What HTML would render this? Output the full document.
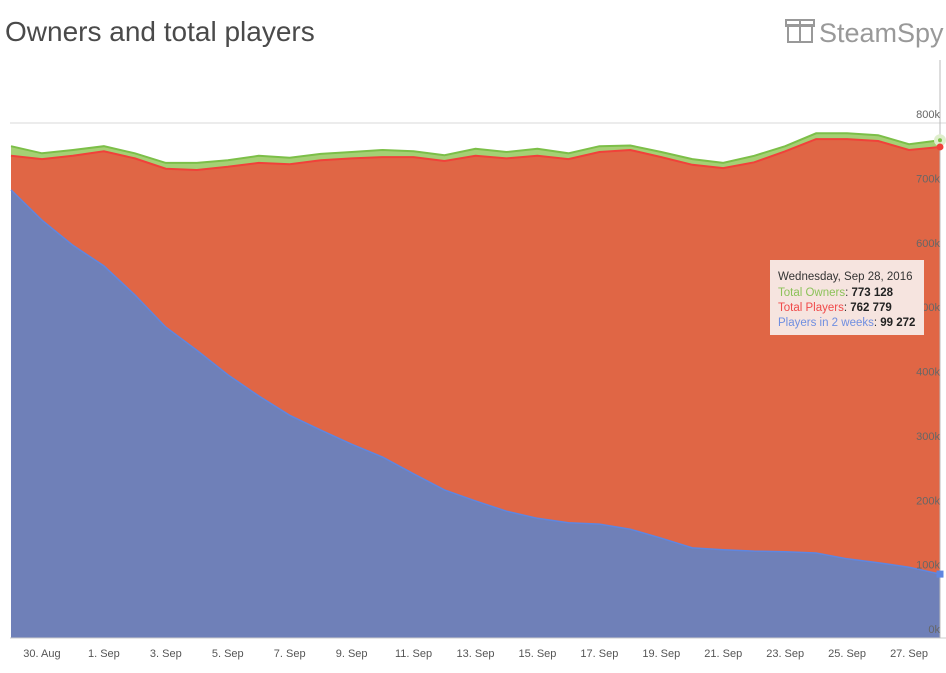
<!DOCTYPE html>
<html><head><meta charset="utf-8"><style>
body{margin:0;background:#fff;font-family:"Liberation Sans",sans-serif;}
svg text{font-family:"Liberation Sans",sans-serif;}
</style></head><body>
<svg id="c" width="946" height="668">
<text x="5" y="41" font-size="28" fill="#4a4a4a">Owners and total players</text>
<g>
<rect x="788" y="25" width="24" height="17" fill="none" stroke="#999" stroke-width="2"/>
<rect x="786" y="20" width="28" height="6" fill="none" stroke="#999" stroke-width="2"/>
<line x1="800" y1="20" x2="800" y2="42" stroke="#999" stroke-width="2"/>
<text x="819" y="42" font-size="27" fill="#999">SteamSpy</text>
</g>
<g id="grid"></g><g id="areas"></g><g id="axes"></g>
<g>
<rect x="770" y="260" width="154" height="75" fill="#f6e4df"/>
<text x="778" y="280" font-size="11.5" fill="#333">Wednesday, Sep 28, 2016</text>
<text x="778" y="296" font-size="11.5" fill="#8cc25a">Total Owners<tspan fill="#333">: </tspan><tspan fill="#222" font-weight="bold">773 128</tspan></text>
<text x="778" y="311" font-size="11.5" fill="#f04a4a">Total Players<tspan fill="#333">: </tspan><tspan fill="#222" font-weight="bold">762 779</tspan></text>
<text x="778" y="326" font-size="11.5" fill="#6f8ee0">Players in 2 weeks<tspan fill="#333">: </tspan><tspan fill="#222" font-weight="bold">99 272</tspan></text>
</g>
</svg>
<script>
const owners=[764,753,758,764,753,738,738,742,749,746,752,755,758,756,750,760,755,760,753,764,765,755,744,738,749,764,784,784,781,767,773.128];
const players=[749,744,749,756,745,729,727,732,738,736,742,745,747,747,741,749,745,749,744,755,758,747,735,730,739,756,775,775,772,758,762.779];
const twoWeeks=[696,649,610,578,533,483,447,409,376,346,323,301,281,255,230,213,197,186,179,177,169,155,140,137,135,134,132,123,117,110,99.272];
const yTicks=[0,100,200,300,400,500,600,700,800];
const xLabels=["30. Aug","1. Sep","3. Sep","5. Sep","7. Sep","9. Sep","11. Sep","13. Sep","15. Sep","17. Sep","19. Sep","21. Sep","23. Sep","25. Sep","27. Sep"];
const NS="http://www.w3.org/2000/svg";
const x=i=>11+i*(929/30), y=v=>638-v*515/800;
function mk(p,t,a){const e=document.createElementNS(NS,t);for(const k in a)e.setAttribute(k,a[k]);document.getElementById(p).appendChild(e);return e;}
const line=arr=>arr.map((v,i)=>(i?'L':'M')+x(i).toFixed(1)+','+y(v).toFixed(1)).join('');
const area=arr=>line(arr)+`L${x(arr.length-1)},638L${x(0)},638Z`;
yTicks.forEach(t=>{
 if(t>0&&t<800)return;
 const g=mk('grid','line',{x1:10,x2:946,y1:y(t),y2:y(t),stroke:'#d8d8d8'});
 
 
});
yTicks.forEach(t=>{
 const l=mk('axes','text',{x:940,y:y(t)-5,'text-anchor':'end','font-size':11,fill:'#666'});
 l.textContent=t+'k';
 
 
});
xLabels.forEach((s,k)=>{
 const i=1+2*k;
 const l=mk('axes','text',{x:x(i),y:657,'text-anchor':'middle','font-size':11,fill:'#555'});
 l.textContent=s;
 
 
});
let a=mk('areas','path',{d:area(owners),fill:'#a5d074'});


mk('areas','path',{d:line(owners),fill:'none',stroke:'#7cbf48','stroke-width':2});
a=mk('areas','path',{d:area(players),fill:'#e06645'});


mk('areas','path',{d:line(players),fill:'none',stroke:'#f0413a','stroke-width':2});
a=mk('areas','path',{d:area(twoWeeks),fill:'#6f80b8'});


mk('areas','path',{d:line(twoWeeks),fill:'none',stroke:'#5f86e0','stroke-width':1.5});
mk('areas','line',{x1:10,x2:946,y1:638,y2:638,stroke:'#ccc'});
const L=owners.length-1;
mk('areas','line',{x1:x(L),x2:x(L),y1:60,y2:638,stroke:'#bbb'});
mk('areas','circle',{cx:x(L),cy:y(owners[L]),r:4,fill:'#7cbf48',stroke:'#dfeecd','stroke-width':4});
mk('areas','circle',{cx:x(L),cy:y(players[L]),r:3.5,fill:'#f0413a'});
mk('areas','rect',{x:x(L)-3.5,y:y(twoWeeks[L])-3.5,width:7,height:7,fill:'#5f86e0'});
</script>
</body></html>
